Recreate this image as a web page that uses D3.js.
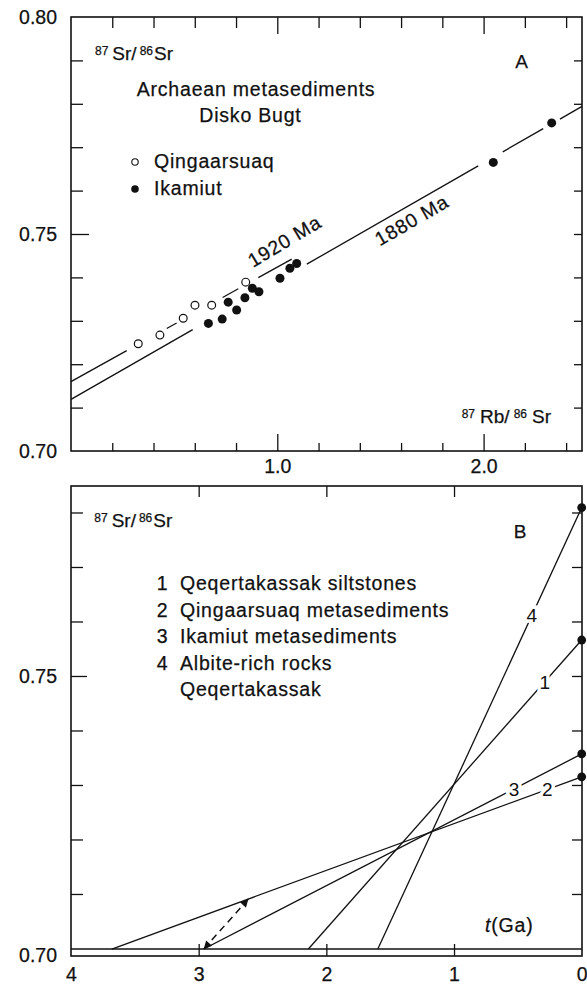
<!DOCTYPE html>
<html>
<head>
<meta charset="utf-8">
<script src="https://cdn.jsdelivr.net/npm/d3@7"></script>
<style>
body { margin: 0; background: #fff; }
svg text { font-family: "Liberation Sans", Arial, Helvetica, sans-serif; fill: #111; stroke: #111; stroke-width: 0.25px; }
.tk line { stroke: #111; stroke-width: 1.3; }
.lbl { font-size: 19.5px; letter-spacing: 0.8px; }
svg text.onl { stroke: #fff; stroke-width: 7px; paint-order: stroke; }
</style>
</head>
<body>
<script>
// ---- panel A: Rb/Sr isochron diagram ----
const qingRb = [0.326, 0.431, 0.544, 0.601, 0.682, 0.847];
const qingSr = [0.7247, 0.7267, 0.7306, 0.7336, 0.7336, 0.7389];
const ikaRb = [0.666, 0.733, 0.762, 0.803, 0.843, 0.879, 0.911, 1.013, 1.061, 1.094, 2.047, 2.330];
const ikaSr = [0.7294, 0.7304, 0.7343, 0.7325, 0.7353, 0.7375, 0.7367, 0.7398, 0.7421, 0.7432, 0.7665, 0.7756];
// isochrons: intercept, slope, and the pieces that are actually inked
const isoNames = ["1920 Ma", "1880 Ma"];
const isoIntercept = [0.7160, 0.7119];
const isoSlope = [0.02636, 0.02725];
const isoPieces = [
  [[0, 0.270], [0.464, 0.512], [0.735, 0.811], [0.908, 1.070]],
  [[0, 0.590], [1.143, 1.974], [2.093, 2.289], [2.370, 2.477]]
];
const isoLabelAt = [0.91, 1.446];
const aMinorX = [0.2, 0.4, 0.6, 0.8, 1.2, 1.4, 1.6, 1.8, 2.2, 2.4];
const aMajorX = [1.0, 2.0];
const aMinorY = [0.71, 0.72, 0.73, 0.74, 0.76, 0.77, 0.78, 0.79];
const aLabelsY = [0.70, 0.75, 0.80];

// ---- panel B: Sr evolution lines ----
const bIds = ["4", "1", "3", "2"];
const bToday = [0.7809, 0.7566, 0.7357, 0.7315];   // 87Sr/86Sr at t = 0
const bModelAge = [1.597, 2.141, 2.96, 3.68];       // Ga, meets the base line
const bLabelT = [0.39, 0.29, 0.53, 0.27];
const baseSr = 0.6999;
const arrowStartT = 2.96, arrowEndT = 2.611, arrowOnLine = 3; // ends on line "2"
const bLegendNum = ["1", "2", "3", "4", ""];
const bLegendTxt = ["Qeqertakassak siltstones", "Qingaarsuaq metasediments",
  "Ikamiut metasediments", "Albite-rich rocks", "Qeqertakassak"];
const bTicksX = [3, 2, 1];
const bLabelsX = [4, 3, 2, 1, 0];
const bMinorY = [0.71, 0.72, 0.73, 0.74, 0.76, 0.77, 0.78];

const W = 587, H = 986;
const svg = d3.select("body").append("svg").attr("width", W).attr("height", H);

const L = 71, R = 582;
const xA = d3.scaleLinear().domain([0, 2.477]).range([L, R]);
const yA = d3.scaleLinear().domain([0.70, 0.80]).range([451, 17]);
const xB = d3.scaleLinear().domain([4, 0]).range([L, 581.7]);
const yB = d3.scaleLinear().domain([0.69862, 0.78486]).range([956, 486]);

function ticks(axis, vals, size, tr) {
  svg.append("g").attr("class", "tk").attr("transform", tr)
    .call(axis.tickValues(vals).tickSize(size).tickFormat(""))
    .call(g => g.select(".domain").remove());
}
function labels(axis, vals, pad, tr, fmt) {
  svg.append("g").attr("transform", tr)
    .call(axis.tickValues(vals).tickSize(0).tickPadding(pad).tickFormat(fmt))
    .call(g => g.select(".domain").remove())
    .call(g => g.selectAll("text").attr("font-size", 19.5).attr("font-family", null));
}
function ratio(x, y, parts) {
  const t = svg.append("text").attr("x", x).attr("y", y).attr("font-size", 19);
  let up = false;
  parts.forEach(p => {
    const s = t.append("tspan").text(p[0]).attr("dx", p[2]);
    if (p[1] && !up) { s.attr("font-size", 12).attr("dy", -5); up = true; }
    else if (p[1]) s.attr("font-size", 12);
    else if (up) { s.attr("dy", 5); up = false; }
  });
}

// ===== panel A =====
svg.append("rect").attr("x", L).attr("y", yA(0.80)).attr("width", R - L).attr("height", yA(0.70) - yA(0.80))
  .attr("fill", "none").attr("stroke", "#111").attr("stroke-width", 1.6);

ticks(d3.axisRight(yA), aMinorY, 12, `translate(${L},0)`);
ticks(d3.axisRight(yA), [0.75], 18, `translate(${L},0)`);
ticks(d3.axisLeft(yA), aMinorY.concat([0.75]), 8, `translate(${R},0)`);
ticks(d3.axisTop(xA), aMinorX, 8, `translate(0,${yA(0.70)})`);
ticks(d3.axisTop(xA), aMajorX, 17, `translate(0,${yA(0.70)})`);
ticks(d3.axisBottom(xA), aMinorX, 11, `translate(0,${yA(0.80)})`);
ticks(d3.axisBottom(xA), aMajorX, 17, `translate(0,${yA(0.80)})`);
labels(d3.axisLeft(yA), aLabelsY, 14, `translate(${L},0)`, d3.format(".2f"));
labels(d3.axisBottom(xA), aMajorX, 8, `translate(0,${yA(0.70)})`, d3.format(".1f"));

isoPieces.forEach((pieces, k) => {
  pieces.forEach(p => {
    svg.append("line")
      .attr("x1", xA(p[0])).attr("y1", yA(isoIntercept[k] + isoSlope[k] * p[0]))
      .attr("x2", xA(p[1])).attr("y2", yA(isoIntercept[k] + isoSlope[k] * p[1]))
      .attr("stroke", "#111").attr("stroke-width", 1.3);
  });
  const lx = isoLabelAt[k];
  svg.append("text")
    .attr("transform", `translate(${xA(lx)},${yA(isoIntercept[k] + isoSlope[k] * lx)}) rotate(${k === 0 ? -31 : -30})`)
    .attr("y", k === 0 ? -11 : 21).attr("class", "lbl").text(isoNames[k]);
});

svg.selectAll(".qing").data(qingRb).join("circle")
  .attr("cx", d => xA(d)).attr("cy", (d, i) => yA(qingSr[i])).attr("r", 3.9)
  .attr("fill", "#fff").attr("stroke", "#111").attr("stroke-width", 1.2);
svg.selectAll(".ika").data(ikaRb).join("circle")
  .attr("cx", d => xA(d)).attr("cy", (d, i) => yA(ikaSr[i])).attr("r", 4.5)
  .attr("fill", "#111");

ratio(95, 60, [["87", true, 0], ["Sr/", false, 4], ["86", true, 3], ["Sr", false, 1]]);
ratio(461.7, 423.3, [["87", true, 0], ["Rb/", false, 5], ["86", true, 4], ["Sr", false, 5]]);
svg.append("text").attr("x", 521.7).attr("y", 68.3).attr("text-anchor", "middle").attr("font-size", 19).text("A");
svg.append("text").attr("x", 136.7).attr("y", 96).attr("class", "lbl").text("Archaean metasediments");
svg.append("text").attr("x", 199.3).attr("y", 122).attr("class", "lbl").text("Disko Bugt");
svg.append("circle").attr("cx", 135).attr("cy", 162).attr("r", 3.2).attr("fill", "#fff").attr("stroke", "#111").attr("stroke-width", 1.1);
svg.append("text").attr("x", 154).attr("y", 168).attr("class", "lbl").text("Qingaarsuaq");
svg.append("circle").attr("cx", 135).attr("cy", 189).attr("r", 3.8).attr("fill", "#111");
svg.append("text").attr("x", 154).attr("y", 195).attr("class", "lbl").text("Ikamiut");

// ===== panel B =====
svg.append("rect").attr("x", L).attr("y", yB.range()[1]).attr("width", R - L).attr("height", yB.range()[0] - yB.range()[1])
  .attr("fill", "none").attr("stroke", "#111").attr("stroke-width", 1.6);

ticks(d3.axisRight(yB), bMinorY, 12, `translate(${L},0)`);
ticks(d3.axisRight(yB), [0.75], 16, `translate(${L},0)`);
ticks(d3.axisLeft(yB), bMinorY.concat([0.75]), 10, `translate(${R},0)`);
ticks(d3.axisTop(xB), bTicksX, 12, `translate(0,${yB.range()[0]})`);
ticks(d3.axisBottom(xB), bTicksX, 11, `translate(0,${yB.range()[1]})`);
labels(d3.axisLeft(yB), [0.75], 14, `translate(${L},0)`, d3.format(".2f"));
// the 0.70 label sits at the frame corner in the original
svg.append("text").attr("x", L - 14).attr("y", yB.range()[0]).attr("dy", "0.32em")
  .attr("text-anchor", "end").attr("font-size", 19.5).text("0.70");
labels(d3.axisBottom(xB), bLabelsX, 11, `translate(0,${yB.range()[0]})`, d3.format("d"));

// base line
svg.append("line").attr("x1", xB(4)).attr("x2", xB(0)).attr("y1", yB(baseSr)).attr("y2", yB(baseSr))
  .attr("stroke", "#111").attr("stroke-width", 1.5);

const srAt = (k, t) => bToday[k] + (baseSr - bToday[k]) * t / bModelAge[k];
bIds.forEach((id, k) => {
  svg.append("line")
    .attr("x1", xB(bModelAge[k])).attr("y1", yB(baseSr))
    .attr("x2", xB(0)).attr("y2", yB(bToday[k]))
    .attr("stroke", "#111").attr("stroke-width", 1.3);
});
bIds.forEach((id, k) => {
  svg.append("text").attr("class", "onl").attr("x", xB(bLabelT[k])).attr("y", yB(srAt(k, bLabelT[k])))
    .attr("dy", "0.35em").attr("text-anchor", "middle").attr("font-size", 19).text(id);
});
svg.selectAll(".today").data(bToday).join("circle")
  .attr("cx", xB(0)).attr("cy", d => yB(d)).attr("r", 4.4).attr("fill", "#111");

svg.append("defs").append("marker").attr("id", "ah")
  .attr("viewBox", "0 0 10 10").attr("refX", 10).attr("refY", 5)
  .attr("markerWidth", 12).attr("markerHeight", 8).attr("markerUnits", "userSpaceOnUse")
  .attr("orient", "auto-start-reverse")
  .append("path").attr("d", "M0,0L10,5L0,10z").attr("fill", "#111");
svg.append("line")
  .attr("x1", xB(arrowStartT)).attr("y1", yB(baseSr))
  .attr("x2", xB(arrowEndT)).attr("y2", yB(srAt(arrowOnLine, arrowEndT)))
  .attr("stroke", "#111").attr("stroke-width", 1.5).attr("stroke-dasharray", "7,5")
  .attr("marker-start", "url(#ah)").attr("marker-end", "url(#ah)");

ratio(94.3, 527.3, [["87", true, 0], ["Sr/", false, 4], ["86", true, 3], ["Sr", false, 1]]);
svg.append("text").attr("x", 520).attr("y", 538.3).attr("text-anchor", "middle").attr("font-size", 19).text("B");
bLegendTxt.forEach((txt, i) => {
  const y = 590 + i * 26.5;
  svg.append("text").attr("x", 156.7).attr("y", y).attr("class", "lbl").text(bLegendNum[i]);
  svg.append("text").attr("x", 180).attr("y", y).attr("class", "lbl").text(txt);
});
const tg = svg.append("text").attr("x", 485).attr("y", 931.7).attr("class", "lbl");
tg.append("tspan").attr("font-style", "italic").text("t");
tg.append("tspan").text("(Ga)");
</script>
</body>
</html>
